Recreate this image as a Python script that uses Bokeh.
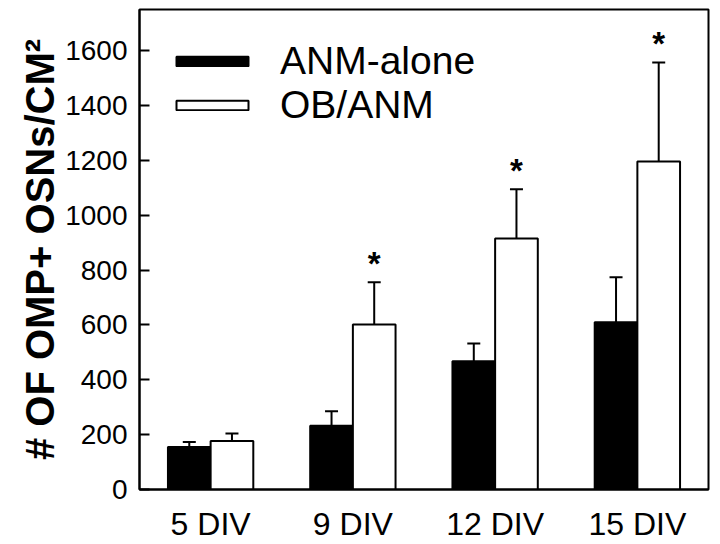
from bokeh.plotting import figure
from bokeh.models import ColumnDataSource, FactorRange, Range1d, FixedTicker
from bokeh.transform import dodge
from bokeh.core.properties import value
from bokeh.embed import file_html
from bokeh.resources import INLINE

# ---- data ----
categories = ["5 DIV", "9 DIV", "12 DIV", "15 DIV"]
anm_alone_mean = [155, 232, 468, 610]
anm_alone_err = [18, 53, 64, 164]
ob_anm_mean = [177, 602, 915, 1196]
ob_anm_err = [27, 154, 180, 361]
ob_anm_sig = ["", "*", "*", "*"]
y_ticks = [0, 200, 400, 600, 800, 1000, 1200, 1400, 1600]
series_names = ["ANM-alone", "OB/ANM"]
y_title = "# OF OMP+ OSNs/CM\u00b2"

FONT = "Liberation Sans"

src_a = ColumnDataSource(dict(
    cat=categories, mean=anm_alone_mean,
    upper=[m + e for m, e in zip(anm_alone_mean, anm_alone_err)]))
src_b = ColumnDataSource(dict(
    cat=categories, mean=ob_anm_mean,
    upper=[m + e for m, e in zip(ob_anm_mean, ob_anm_err)], sig=ob_anm_sig))

p = figure(width=720, height=544, output_backend="svg", toolbar_location=None,
           x_range=FactorRange(factors=categories, range_padding=0),
           y_range=Range1d(0, 1750),
           min_border_left=139, min_border_right=12, min_border_top=9, min_border_bottom=55)

off = 0.15
bw = 0.30
xa = dodge("cat", -off, range=p.x_range)
xb = dodge("cat", off, range=p.x_range)

# error bars (upper only)
p.segment(x0=xa, y0="mean", x1=xa, y1="upper", source=src_a, line_color="black", line_width=2)
p.scatter(x=xa, y="upper", source=src_a, marker="dash", size=13, line_color="black", line_width=2)
p.segment(x0=xb, y0="mean", x1=xb, y1="upper", source=src_b, line_color="black", line_width=2)
p.scatter(x=xb, y="upper", source=src_b, marker="dash", size=13, line_color="black", line_width=2)

# bars
p.vbar(x=xa, top="mean", width=bw, source=src_a, fill_color="black", line_color="black",
       line_width=2, legend_label=series_names[0])
p.vbar(x=xb, top="mean", width=bw, source=src_b, fill_color="white", line_color="black",
       line_width=2, legend_label=series_names[1])

# significance asterisks
p.text(x=xb, y="upper", text="sig", source=src_b, text_font=value(FONT),
       text_font_size="33px", text_font_style="bold", text_align="center",
       text_baseline="bottom", text_color="black")

# axes styling
p.xgrid.visible = False
p.ygrid.visible = False
p.outline_line_color = "black"
p.outline_line_width = 2
p.outline_line_alpha = 1

p.yaxis.ticker = FixedTicker(ticks=y_ticks)
p.yaxis.minor_tick_line_color = None
p.yaxis.major_tick_in = 10
p.yaxis.major_tick_out = 0
p.yaxis.major_tick_line_width = 2
p.yaxis.axis_line_width = 2
p.yaxis.major_label_standoff = 12
p.yaxis.major_label_text_font = FONT
p.yaxis.major_label_text_font_size = "28px"
p.yaxis.major_label_text_color = "black"
p.yaxis.axis_label = y_title
p.yaxis.axis_label_standoff = 0
p.yaxis.axis_label_text_font = FONT
p.yaxis.axis_label_text_font_size = "40px"
p.yaxis.axis_label_text_font_style = "bold"
p.yaxis.axis_label_text_color = "black"

p.xaxis.major_tick_in = 0
p.xaxis.major_tick_out = 0
p.xaxis.axis_line_width = 2
p.xaxis.major_label_standoff = 16
p.xaxis.major_label_text_font = FONT
p.xaxis.major_label_text_font_size = "32px"
p.xaxis.major_label_text_color = "black"

lg = p.legend[0]
lg.location = (28, 362)
lg.border_line_color = None
lg.background_fill_alpha = 0
lg.padding = 0
lg.margin = 0
lg.spacing = 0
lg.glyph_width = 90
lg.glyph_height = 12
lg.label_standoff = 23
lg.label_text_font = FONT
lg.label_text_font_size = "39px"
lg.label_text_color = "black"

open("out.html", "w").write(file_html(p, INLINE))
